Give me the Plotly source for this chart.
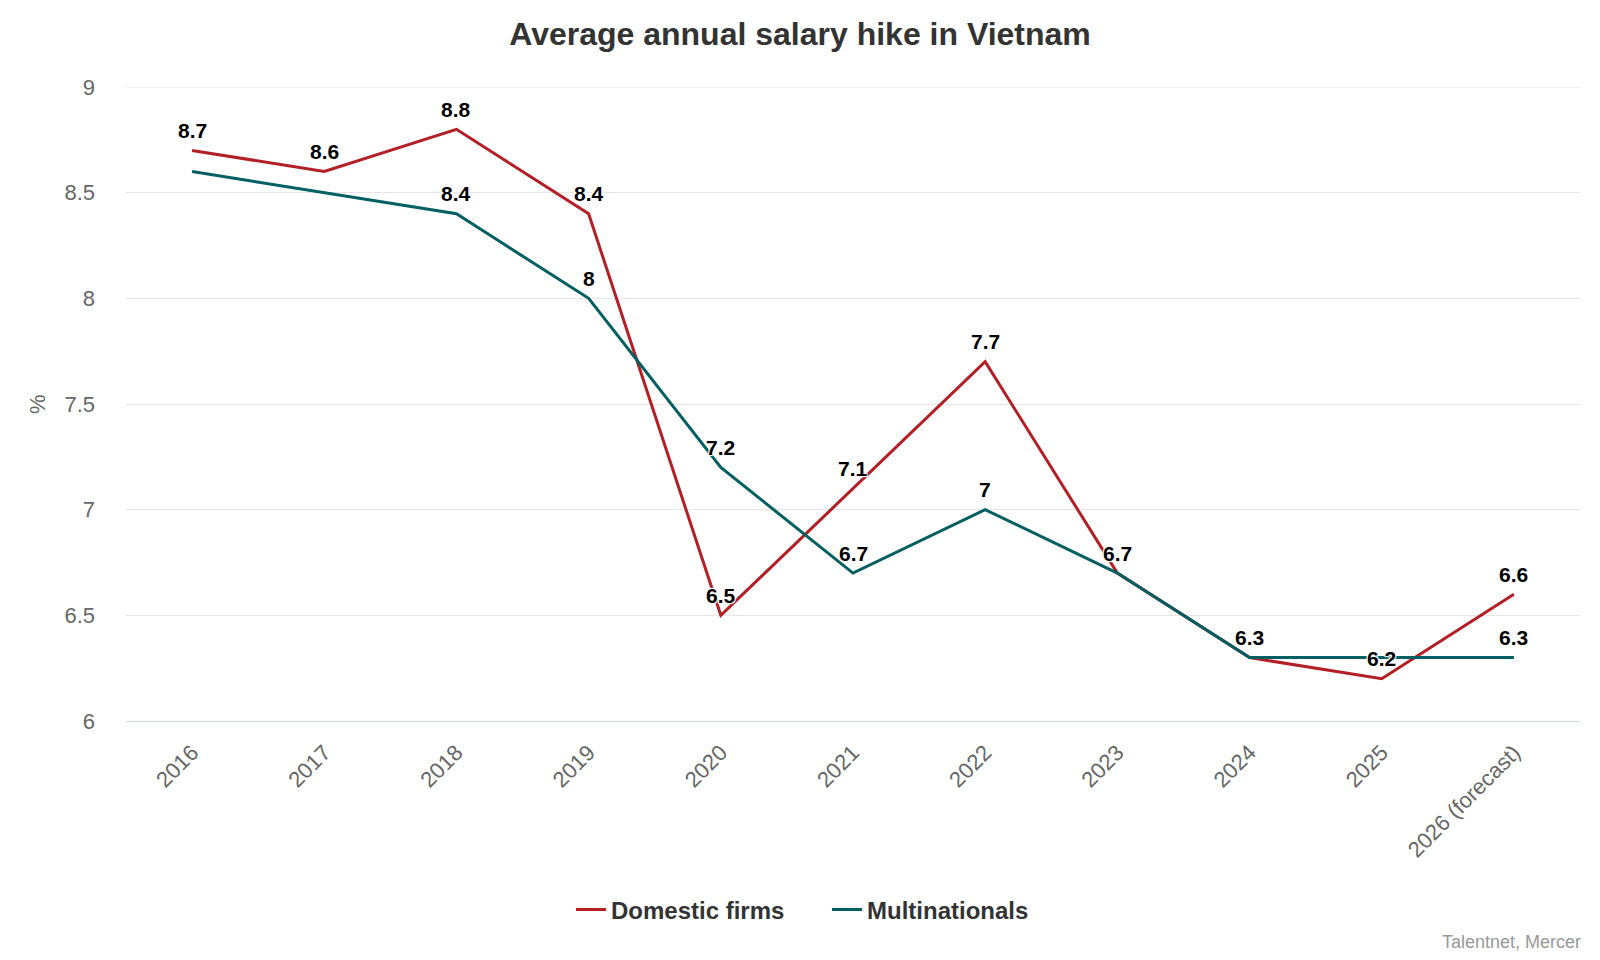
import plotly.graph_objects as go

# ---- data ----
years = ["2016", "2017", "2018", "2019", "2020", "2021", "2022", "2023", "2024", "2025", "2026 (forecast)"]
domestic = [8.7, 8.6, 8.8, 8.4, 6.5, 7.1, 7.7, 6.7, 6.3, 6.2, 6.6]
multinational = [8.6, 8.5, 8.4, 8.0, 7.2, 6.7, 7.0, 6.7, 6.3, 6.3, 6.3]
# which data labels are visible in the source (overlapping ones hidden)
domestic_label_shown = [True] * 11
multinational_label_shown = [False, False, True, True, True, True, True, False, False, False, True]
y_ticks = [6, 6.5, 7, 7.5, 8, 8.5, 9]

series_names = ["Domestic firms", "Multinationals"]
colors = ["#b31f24", "#005f63"]

FONT = "Liberation Sans, Arial, Helvetica, sans-serif"

PLOT_TOP, PLOT_BOTTOM = 87, 721
PLOT_H = PLOT_BOTTOM - PLOT_TOP
PLOT_L, PLOT_R = 126, 1580
PLOT_W = PLOT_R - PLOT_L

legend_ids = ["legend", "legend2"]
legend_left_px = [571, 827]

fig = go.Figure()
for name, vals, col, lg in zip(series_names, [domestic, multinational], colors, legend_ids):
    fig.add_trace(go.Scatter(
        x=years, y=vals, mode="lines", name=name,
        line=dict(color=col, width=3),
        hoverinfo="skip", legend=lg,
    ))


def fmt(v):
    return f"{v:g}"


annotations = []
for vals, shown in [(domestic, domestic_label_shown), (multinational, multinational_label_shown)]:
    for i, (v, s) in enumerate(zip(vals, shown)):
        if not s:
            continue
        annotations.append(dict(
            x=i, y=v, xref="x", yref="y", text=fmt(v), showarrow=False,
            yshift=20, xanchor="center", yanchor="middle",
            font=dict(family=FONT, size=21, color="#000000", weight="bold",
                      shadow="1px 1px 1px #fff, -1px -1px 1px #fff, 1px -1px 1px #fff, -1px 1px 1px #fff"),
        ))

# y-axis title
annotations.append(dict(
    x=(37 - PLOT_L) / PLOT_W, y=0.5, xref="paper", yref="paper", text="%", showarrow=False,
    textangle=-90, xanchor="center", yanchor="middle",
    font=dict(family=FONT, size=22, color="#666666"),
))
# credits
annotations.append(dict(
    x=1 + 3 / PLOT_W, y=(PLOT_BOTTOM - 942) / PLOT_H, xref="paper", yref="paper", text="Talentnet, Mercer",
    showarrow=False, xanchor="right", yanchor="middle",
    font=dict(family=FONT, size=18, color="#999999"),
))

legend_common = dict(
    orientation="h", xref="container", xanchor="left",
    y=(PLOT_BOTTOM - 910) / PLOT_H, yanchor="middle",
    font=dict(family=FONT, size=24, color="#333333", weight="bold"),
    itemwidth=30, bgcolor="rgba(0,0,0,0)", borderwidth=0,
)

# top gridline (plotly skips the grid line on the range edge)
shapes = [dict(
    type="line", xref="paper", yref="y", x0=0, x1=1, y0=y_ticks[-1], y1=y_ticks[-1],
    line=dict(color="#e6e6e6", width=1), layer="below",
)]

fig.update_layout(
    width=1600, height=960,
    margin=dict(l=PLOT_L, r=1600 - PLOT_R, t=PLOT_TOP, b=960 - PLOT_BOTTOM, pad=0, autoexpand=False),
    paper_bgcolor="#ffffff", plot_bgcolor="#ffffff",
    title=dict(
        text="<b>Average annual salary hike in Vietnam</b>",
        x=0.5, xref="container", xanchor="center",
        y=1 - 34 / 960, yref="container", yanchor="middle",
        font=dict(family=FONT, size=32, color="#333333"),
    ),
    font=dict(family=FONT),
    showlegend=True,
    legend=dict(x=legend_left_px[0] / 1600, **legend_common),
    legend2=dict(x=legend_left_px[1] / 1600, **legend_common),
    xaxis=dict(
        type="category", range=[-0.5, 10.5],
        showgrid=False, zeroline=False,
        showline=True, linecolor="#ccd6eb", linewidth=1,
        ticks="", tickangle=-45,
        tickfont=dict(family=FONT, size=22, color="#666666"),
        ticklabelstandoff=9,
    ),
    yaxis=dict(
        range=[6, 9], tickvals=y_ticks, ticktext=[fmt(t) for t in y_ticks],
        showgrid=True, gridcolor="#e6e6e6", gridwidth=1,
        zeroline=False, showline=False, ticks="",
        tickfont=dict(family=FONT, size=22, color="#666666"),
        ticklabelstandoff=30,
    ),
    shapes=shapes,
    annotations=annotations,
    hovermode=False,
)

fig.write_html("out.html")
